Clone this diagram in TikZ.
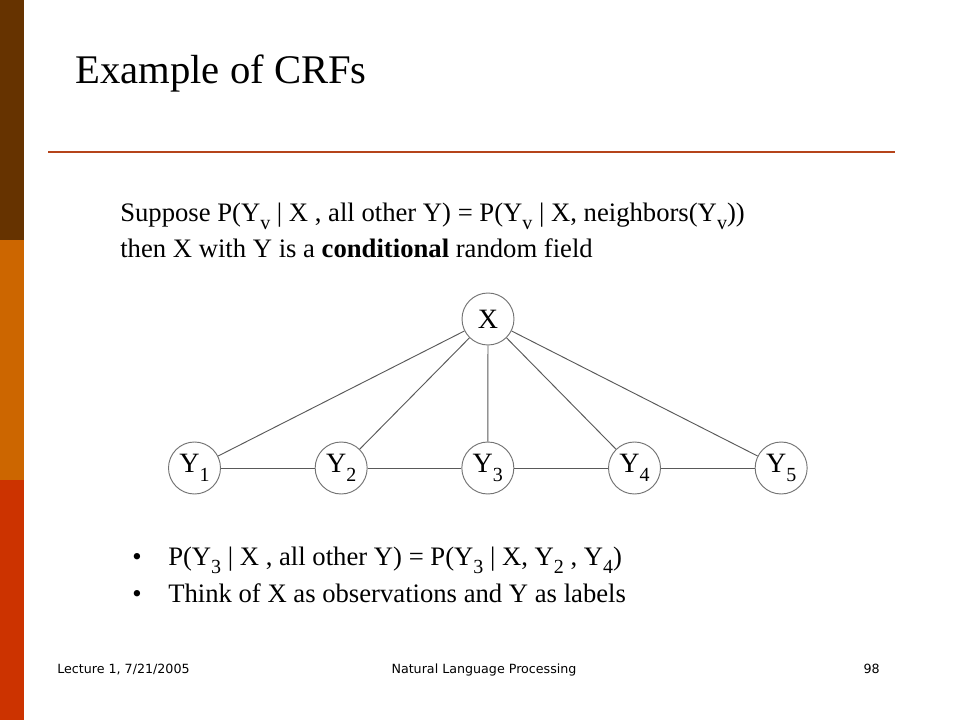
\documentclass[tikz,border=0pt]{standalone}
\usepackage{fontspec}
\setmainfont{Liberation Serif}
\newfontfamily\footfont{DejaVu Sans}
\usetikzlibrary{positioning}

\definecolor{barbrown}{HTML}{663300}
\definecolor{barorange}{HTML}{CC6600}
\definecolor{barred}{HTML}{CC3300}
\definecolor{rulecol}{HTML}{B5441A}

\newcommand{\lowidx}[1]{\raisebox{-0.3em}{\fontsize{15}{15}\selectfont #1}}

\begin{document}
\begin{tikzpicture}[x=0.75pt,y=-0.75pt,node distance=110pt,
  var/.style={circle,draw=black!55,line width=0.7pt,minimum size=39pt,inner sep=0pt,font=\fontsize{21}{24}\selectfont},
  txt/.style={anchor=base west,inner sep=0pt,font=\fontsize{20}{24}\selectfont},
  foot/.style={inner sep=0pt,font=\footfont\fontsize{9.5}{11}\selectfont}]

\useasboundingbox (0,0) rectangle (960,720);
\fill[white] (0,0) rectangle (960,720);

% side bar
\fill[barbrown]  (0,0)   rectangle (24,240);
\fill[barorange] (0,240) rectangle (24,480);
\fill[barred]    (0,480) rectangle (24,720);

% title
\node[anchor=base west,inner sep=0pt,font=\fontsize{30.5}{36}\selectfont] (title) at (75,84) {Example of CRFs};
\draw[rulecol,line width=1.5pt] (48,152) -- (895,152);

\node[txt] (line1) at (120,222) {Suppose P(Y\lowidx{v} | X , all other Y) = P(Y\lowidx{v} | X, neighbors(Y\lowidx{v}))};
\node[txt] (line2) at (120,258) {then X with Y is a \textbf{conditional} random field};

% graph
\node[var] (y1) at (194.5,468) {Y\lowidx{1}};
\node[var] (y2) [right of=y1] {Y\lowidx{2}};
\node[var] (y3) [right of=y2] {Y\lowidx{3}};
\node[var] (y4) [right of=y3] {Y\lowidx{4}};
\node[var] (y5) [right of=y4] {Y\lowidx{5}};
\node[var] (x) at (488,319) {X};

\path[draw=black!65,line width=0.7pt]
  (x) edge (y1)
      edge (y2)
      edge (y3)
      edge (y4)
      edge (y5)
  (y1) edge (y2)
  (y2) edge (y3)
  (y3) edge (y4)
  (y4) edge (y5);

% bullets
\node[anchor=base,inner sep=0pt,font=\fontsize{20}{24}\selectfont] (bul1) at (137,565) {•};
\node[txt] (item1) at (168,565) {P(Y\lowidx{3} | X , all other Y) = P(Y\lowidx{3} | X, Y\lowidx{2} , Y\lowidx{4})};
\node[anchor=base,inner sep=0pt,font=\fontsize{20}{24}\selectfont] (bul2) at (137,602) {•};
\node[txt] (item2) at (168,602) {Think of X as observations and Y as labels};

% footer
\node[foot,anchor=base west] (foot1) at (57,673) {Lecture 1, 7/21/2005};
\node[foot,anchor=base] (foot2) at (484,673) {Natural Language Processing};
\node[foot,anchor=base east] (foot3) at (880,673) {98};

\end{tikzpicture}
\end{document}
